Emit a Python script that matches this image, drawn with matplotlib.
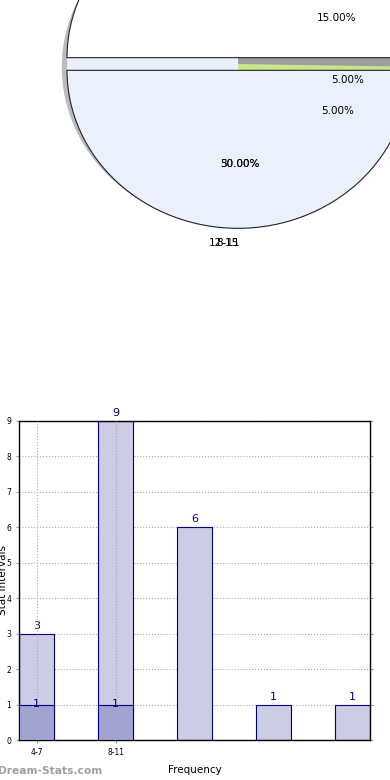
import matplotlib
matplotlib.use("Agg")
import matplotlib.pyplot as plt
import numpy as np

# ------------------------------------------------------------------------------
#   Data
# ------------------------------------------------------------------------------

categories = ["4-7", "8-11", "12-15", "16-19", "20-23"]
tick_labels = ["4-7", "8-11"]
counts = [3, 9, 6, 1, 1]
counts_low = [1, 1]

# back disc: four parts (counter-clockwise, starting just below 3 o'clock)
back_sizes = [91, 90, 90, 89]
back_colors = ["#9E9E9E", "#EAF0FC", "#EAF0FC", "#C8E68C"]
# front pie: upper and lower halves, pulled apart
pie_sizes = [180, 180]
pie_colors = ["#FFFFFF", "#EAF0FC"]
pie_explode = [0.04, 0.04]
pie_pct_texts = ["15.00%", "5.00%", "5.00%", "50.00%", "30.00%"]
pie_cat_texts = ["12-15", "8-11"]

navy = "#000080"
bar_light = "#CCCCE4"
bar_dark = "#A3A3D1"

fig = plt.figure(figsize=(3.9, 7.8), dpi=100)

# ------------------------------------------------------------------------------
#   Pie (cropped by the figure edge)
# ------------------------------------------------------------------------------

ax_pie = fig.add_axes([0, 1 - 260 / 780, 1, 260 / 780])
ax_pie.pie(
    back_sizes,
    colors=back_colors,
    startangle=-1,
    shadow={"ox": -0.022, "oy": -0.015, "shade": 0.5},
    wedgeprops={"linewidth": 0},
)
ax_pie.pie(
    pie_sizes,
    colors=pie_colors,
    explode=pie_explode,
    startangle=0,
    wedgeprops={"edgecolor": "#222222", "linewidth": 0.8},
)
ax_pie.set_aspect("auto")
ax_pie.set_xlim(-238 / 171, 152 / 171)
ax_pie.set_ylim(-196 / 158, 64 / 158)
ax_pie.axis("off")

pct_pos = [(0.579, 0.291), (0.643, -0.101), (0.585, -0.297), (0.012, -0.633), (0.012, -0.633)]
for txt, (x, y) in zip(pie_pct_texts, pct_pos):
    ax_pie.text(x, y, txt, ha="center", va="center", fontsize=7.5)
for txt, x in zip(pie_cat_texts, [-0.085, -0.06]):
    ax_pie.text(x, -1.133, txt, ha="center", va="center", fontsize=7.5)

# ------------------------------------------------------------------------------
#   Bar chart
# ------------------------------------------------------------------------------

ax = fig.add_axes([19 / 390, 40 / 780, 351 / 390, 319 / 780])
x = np.arange(len(counts))
w = 0.45
ax.bar(x, counts, width=w, align="edge", color=bar_light, edgecolor=navy, linewidth=0.8, zorder=2)
ax.bar(x[: len(counts_low)], counts_low, width=w, align="edge", color=bar_dark,
       edgecolor=navy, linewidth=0.8, zorder=3)

for xi, v in zip(x, counts):
    ax.text(xi + w / 2, v + 0.08, str(v), ha="center", va="bottom", color=navy, fontsize=8)
for xi, v in zip(x, counts_low):
    ax.text(xi + w / 2, v + 0.02, str(v), ha="center", va="center", color=navy, fontsize=8, zorder=5)

xt = x[: len(tick_labels)] + w / 2
ax.set_xlim(0, len(counts) - 1 + w)
ax.set_ylim(0, 9)
ax.set_yticks(range(10))
ax.set_xticks(xt)
ax.set_xticklabels(tick_labels)
ax.tick_params(axis="both", labelsize=5.5, length=2, color="#999999")
ax.tick_params(axis="y", right=True, direction="out")
ax.grid(True, axis="y", linestyle=":", color="#AAAAAA", linewidth=0.8)
ax.set_axisbelow(True)
# vertical grid lines are drawn over the bars
ax.vlines(xt, 0, 9, colors="#AAAAAA", linestyles=":", linewidth=0.8, zorder=4)
for s in ax.spines.values():
    s.set_linewidth(1.0)
ax.set_xlabel("Frequency", fontsize=7.5, labelpad=6)

fig.text(3 / 390, 1 - 580 / 780, "Stat Intervals", rotation=90, ha="center", va="center", fontsize=7.5)
fig.text(-2 / 390, 1 - 771 / 780, "Dream-Stats.com", ha="left", va="center",
         fontsize=7.7, fontweight="bold", color="#A0A0A0")

fig.savefig("out.png", dpi=100)
